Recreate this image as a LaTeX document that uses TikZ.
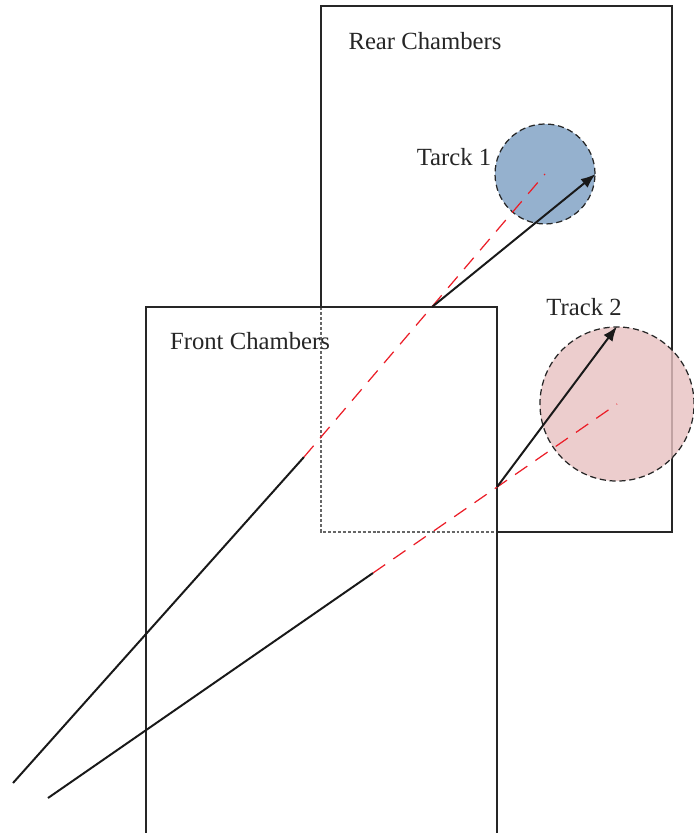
\documentclass[tikz,border=0pt]{standalone}
\usepackage{fontspec}
\setmainfont{Liberation Serif}
\usetikzlibrary{arrows.meta,positioning}
\definecolor{trackBlue}{RGB}{149,177,206}
\definecolor{trackPink}{RGB}{231,193,193}
\definecolor{missRed}{RGB}{235,30,40}

\begin{document}
\begin{tikzpicture}[x=0.405pt,y=-0.405pt,
        chamber/.style={draw=black!85, line width=0.5pt},
        hidden/.style={draw=black!60, line width=0.5pt, dash pattern=on 1.2pt off 0.8pt},
        spot/.style={circle, draw=black!85, dash pattern=on 2.5pt off 1.5pt, line width=0.5pt, inner sep=0pt},
        track/.style={draw=black!90, line width=0.8pt},
        extrap/.style={draw=missRed, line width=0.5pt, dash pattern=on 6pt off 4pt},
        label/.style={font=\fontsize{10}{12}\selectfont, text=black!85}
      ]
        \useasboundingbox (0,0) rectangle (693,833);
        % chambers
        \draw[chamber] (321,307) -- (321,6) -- (672,6) -- (672,532) -- (497,532);
        \draw[hidden] (321,307) -- (321,532) -- (497,532);
        \draw[chamber] (146,833) -- (146,307) -- (497,307) -- (497,833);
        \node[label] (rear) at (425,41) {Rear Chambers};
        \node[label] (front) at (250,341) {Front Chambers};
        % track spots
        \node[spot, fill=trackBlue, minimum size=40.5pt] (trk1) at (545,174) {};
        \node[spot, fill=trackPink, fill opacity=0.8, minimum size=62.4pt] (trk2) at (617,404) {};
        \node[label] (lab1) at (454,157) {Tarck 1};
        \node[label] (lab2) at (584,307) {Track 2};
        % tracks
        \coordinate (s1) at (13,783);
        \coordinate (e1) at (304,457);
        \coordinate (k1) at (432,307);
        \coordinate (s2) at (48,798);
        \coordinate (e2) at (373,573);
        \coordinate (k2) at (497,487);
        \draw[track] (s1) -- (e1);
        \draw[extrap] (e1) -- (trk1.center);
        \draw[track, -{Latex[length=6pt,width=4.5pt]}] (k1) -- (trk1.east);
        \draw[track] (s2) -- (e2);
        \draw[extrap] (e2) -- (trk2.center);
        \draw[track, -{Latex[length=6pt,width=4.5pt]}] (k2) -- (trk2.north);
      \end{tikzpicture}
\end{document}
